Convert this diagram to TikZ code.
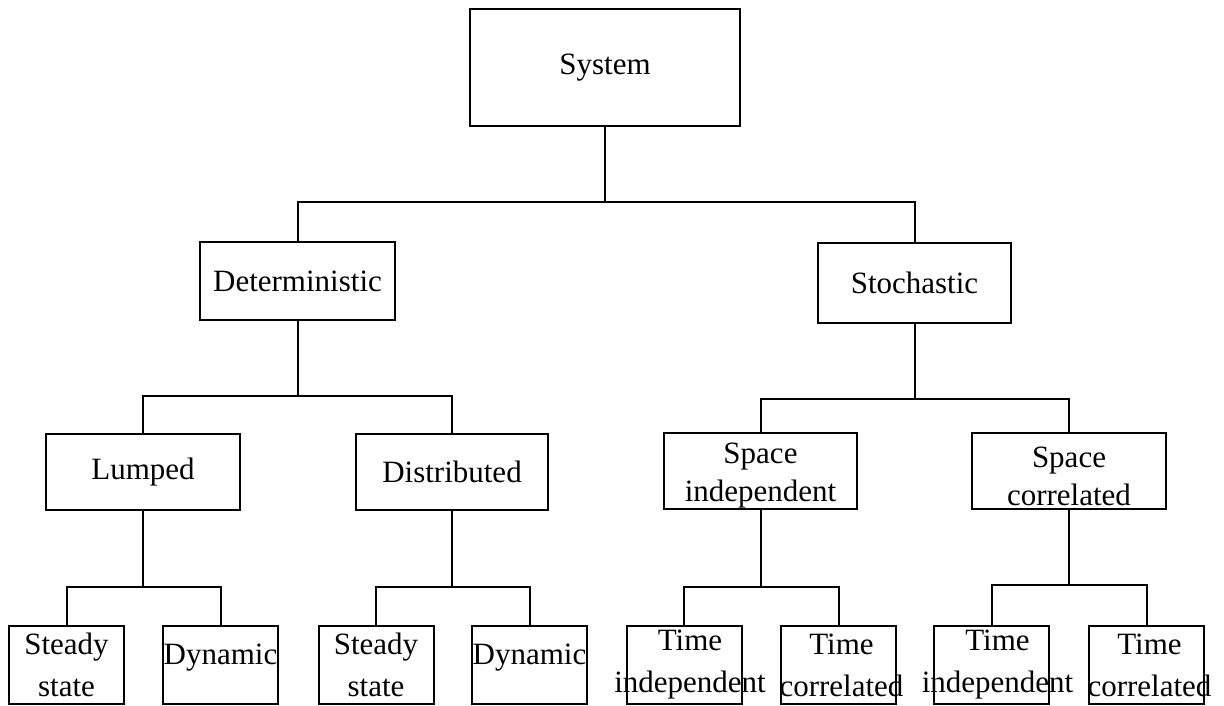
\documentclass[tikz,border=0pt]{standalone}
\usepackage{fontspec}
\setmainfont{Liberation Serif}
\begin{document}
\begin{tikzpicture}[x=1pt,y=-1pt,
  box/.style={draw, line width=2pt, inner sep=0pt, align=center,
    font=\fontsize{31}{38}\selectfont},
  leaf/.style={draw, line width=2pt, inner sep=0pt,
    minimum width=115pt, minimum height=78pt},
  boxtext/.style={align=center, inner sep=0pt,
    font=\fontsize{31}{38}\selectfont},
  leaftext/.style={align=center, inner sep=0pt,
    font=\fontsize{31}{42}\selectfont},
  conn/.style={line width=2pt}]
\useasboundingbox (0,0) rectangle (1224,706);

% root
\node[box, minimum width=270pt, minimum height=117pt] (sys) at (605,67.5) {System};

% first level
\node[box, minimum width=195pt, minimum height=78pt] (det) at (297.5,281) {Deterministic};
\node[box, minimum width=193pt, minimum height=80pt] (sto) at (914.5,283) {Stochastic};

% second level
\node[box, minimum width=194pt, minimum height=76pt] (lum) at (143,472) {Lumped};
\node[box, minimum width=192pt, minimum height=76pt] (dis) at (452,472) {Distributed};
\node[box, minimum width=193pt, minimum height=76pt,
  label={[boxtext, yshift=-5pt]center:Space\\independent}] (spi) at (760.5,471) {};
\node[box, minimum width=194pt, minimum height=76pt,
  label={[boxtext, yshift=-5pt]center:Space\\correlated}] (spc) at (1069,471) {};

% leaves
\node[leaf, label={[leaftext]center:Steady\\state}] (ss1) at (66.5,665) {};
\node[leaf, label={[leaftext, yshift=7pt]center:Dynamic}] (dy1) at (220.5,665) {};
\node[leaf, label={[leaftext]center:Steady\\state}] (ss2) at (376,665) {};
\node[leaf, label={[leaftext, yshift=7pt]center:Dynamic}] (dy2) at (529.5,665) {};
\node[leaf, label={[leaftext, xshift=6pt]center:Time\\independent}] (ti1) at (684,665) {};
\node[leaf, label={[leaftext, xshift=3pt]center:Time\\correlated}] (tc1) at (838.5,665) {};
\node[leaf, label={[leaftext, xshift=6pt]center:Time\\independent}] (ti2) at (991.5,665) {};
\node[leaf, label={[leaftext, xshift=3pt]center:Time\\correlated}] (tc2) at (1146.5,665) {};

% branch points
\coordinate (j0) at (605,202);
\coordinate (j1) at (297.5,396);
\coordinate (j2) at (914.5,399);
\coordinate (j3) at (143,587);
\coordinate (j4) at (452,587);
\coordinate (j5) at (760.5,587);
\coordinate (j6) at (1069,585);

% connectors
\draw[conn] (sys.south) -- (j0);
\draw[conn] (det.north) |- (j0) -| (sto.north);

\draw[conn] (det.south) -- (j1);
\draw[conn] (lum.north) |- (j1) -| (dis.north);
\draw[conn] (sto.south) -- (j2);
\draw[conn] (spi.north) |- (j2) -| (spc.north);

\draw[conn] (lum.south) -- (j3);
\draw[conn] (ss1.north) |- (j3) -| (dy1.north);
\draw[conn] (dis.south) -- (j4);
\draw[conn] (ss2.north) |- (j4) -| (dy2.north);
\draw[conn] (spi.south) -- (j5);
\draw[conn] (ti1.north) |- (j5) -| (tc1.north);
\draw[conn] (spc.south) -- (j6);
\draw[conn] (ti2.north) |- (j6) -| (tc2.north);
\end{tikzpicture}
\end{document}
